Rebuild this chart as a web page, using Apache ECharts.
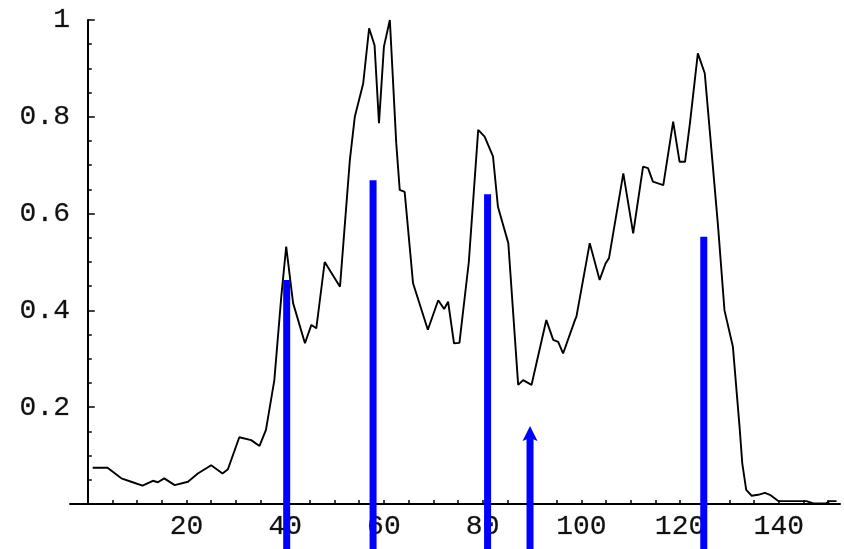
<!DOCTYPE html>
<html>
<head>
<meta charset="utf-8">
<script src="https://cdn.jsdelivr.net/npm/echarts@6/dist/echarts.min.js"></script>
<style>
html,body{margin:0;padding:0;background:#fff;}
#chart{width:844px;height:549px;}
</style>
</head>
<body>
<div id="chart"></div>
<script>
// Black curve (x, y)
var curveX = [1, 4, 6.8, 8.8, 11.1, 13.2, 14.2, 15.5, 17.6, 20.3, 22.3, 25, 27.3, 28.4, 30.7, 33.1, 34.8, 36.1, 37.8, 39.2, 40.2, 41.6, 44, 45.3, 46.3, 48, 51.1, 53.1, 54.1, 55.8, 57, 58.1, 59, 60, 61.2, 62.5, 63.2, 64.2, 65.9, 68.9, 71, 72.2, 73, 74.2, 75.3, 77.2, 79.1, 80.4, 82.1, 83.1, 85.2, 87.2, 88.2, 89.9, 92.9, 94.3, 95.3, 96.3, 98.7, 99, 101.7, 103.7, 104.9, 105.6, 108.5, 110.5, 112.5, 113.5, 114.5, 116.6, 118.6, 119.9, 121, 122, 123.6, 125, 126, 127.7, 129, 130.7, 132.1, 132.6, 133.4, 134.5, 135.8, 137.2, 138.2, 139.9, 145.6, 147, 149.5, 150.3, 151.7];
var curveY = [0.075, 0.075, 0.053, 0.046, 0.038, 0.048, 0.045, 0.053, 0.039, 0.046, 0.063, 0.080, 0.063, 0.072, 0.138, 0.132, 0.12, 0.153, 0.256, 0.428, 0.532, 0.415, 0.332, 0.370, 0.363, 0.50, 0.449, 0.711, 0.80, 0.869, 0.983, 0.948, 0.787, 0.945, 1.0, 0.745, 0.649, 0.645, 0.456, 0.36, 0.421, 0.403, 0.418, 0.332, 0.333, 0.50, 0.773, 0.759, 0.718, 0.614, 0.539, 0.246, 0.256, 0.246, 0.38, 0.339, 0.335, 0.311, 0.38, 0.387, 0.539, 0.463, 0.497, 0.508, 0.683, 0.559, 0.697, 0.694, 0.666, 0.659, 0.79, 0.707, 0.707, 0.787, 0.931, 0.89, 0.773, 0.573, 0.40, 0.325, 0.153, 0.084, 0.029, 0.017, 0.019, 0.023, 0.019, 0.006, 0.006, 0.001, 0.001, 0.006, 0.006];

// Blue vertical lines
var barX = [40.3, 57.8, 81, 89.6, 124.8];
var barTop = [0.463, 0.669, 0.640, 0.161, 0.552];
var barArrow = [0, 0, 0, 1, 0];

// Axis ticks and labels
var xTickValues = [5,10,15,20,25,30,35,40,45,50,55,60,65,70,75,80,85,90,95,100,105,110,115,120,125,130,135,140,145,150];
var xLabelValues = [20, 40, 60, 80, 100, 120, 140];
var xLabels = ['20', '40', '60', '80', '100', '120', '140'];
var yMinorTickValues = [0.05,0.1,0.15,0.25,0.3,0.35,0.45,0.5,0.55,0.65,0.7,0.75,0.85,0.9,0.95];
var yLabelValues = [0.2, 0.4, 0.6, 0.8, 1];
var yLabels = ['0.2', '0.4', '0.6', '0.8', '1'];

var curveData = curveX.map(function (x, i) { return [x, curveY[i]]; });
var barData = barX.map(function (x, i) { return [x, barTop[i], barArrow[i]]; });

function lookup(values, labels) {
  return function (v) {
    for (var i = 0; i < values.length; i++) {
      if (Math.abs(values[i] - v) < 1e-9) return labels[i];
    }
    return '';
  };
}

var labelFont = {
  fontFamily: 'Liberation Mono', fontSize: 28, color: '#111',
  textBorderColor: 'rgba(20,20,20,0.45)', textBorderWidth: 0.5
};
var blue = '#0000ff';

var chart = echarts.init(document.getElementById('chart'), null, { renderer: 'canvas' });
chart.setOption({
  animation: false,
  backgroundColor: '#ffffff',
  grid: { left: 70, right: 4, top: 20, bottom: 45, containLabel: false },
  xAxis: {
    type: 'value', min: -3.6, max: 152.4,
    axisLine: { show: true, onZero: true, lineStyle: { color: '#000', width: 2 } },
    axisTick: { show: true, inside: true, length: 4, customValues: xTickValues, lineStyle: { color: '#000', width: 1.5 } },
    axisLabel: Object.assign({ show: true, margin: 9, customValues: xLabelValues, formatter: lookup(xLabelValues, xLabels) }, labelFont),
    splitLine: { show: false }
  },
  yAxis: [
    {
      type: 'value', min: 0, max: 1,
      axisLine: { show: true, onZero: true, onZeroAxisIndex: 0, lineStyle: { color: '#000', width: 2 } },
      axisTick: { show: true, inside: true, length: 4, customValues: yMinorTickValues, lineStyle: { color: '#000', width: 1.5 } },
      axisLabel: { show: false },
      splitLine: { show: false }
    },
    {
      type: 'value', min: 0, max: 1, position: 'left', offset: 0,
      axisLine: { show: false, onZero: true, onZeroAxisIndex: 0 },
      axisTick: { show: true, inside: true, length: 7, customValues: yLabelValues, lineStyle: { color: '#000', width: 1.5 } },
      axisLabel: Object.assign({ show: true, margin: 0, customValues: yLabelValues, formatter: lookup(yLabelValues, yLabels) }, labelFont),
      splitLine: { show: false }
    }
  ],
  series: [
    {
      type: 'line', data: curveData, symbol: 'none', smooth: false,
      lineStyle: { color: '#000', width: 1.9 }, z: 2
    },
    {
      type: 'custom', data: barData, z: 3, clip: false,
      renderItem: function (params, api) {
        var x = api.value(0), top = api.value(1), isArrow = api.value(2);
        var p = api.coord([x, top]);
        var H = api.getHeight();
        var w = 7;
        if (!isArrow) {
          return { type: 'rect', shape: { x: p[0] - w / 2, y: p[1], width: w, height: H - p[1] }, style: { fill: blue } };
        }
        var hh = 15, hw = 15;
        return {
          type: 'group', children: [
            { type: 'rect', shape: { x: p[0] - w / 2, y: p[1] + hh - 3, width: w, height: H - p[1] - hh + 3 }, style: { fill: blue } },
            { type: 'polygon', shape: { points: [[p[0], p[1]], [p[0] + hw / 2, p[1] + hh], [p[0], p[1] + hh - 3], [p[0] - hw / 2, p[1] + hh]] }, style: { fill: blue } }
          ]
        };
      }
    }
  ]
});
</script>
</body>
</html>
